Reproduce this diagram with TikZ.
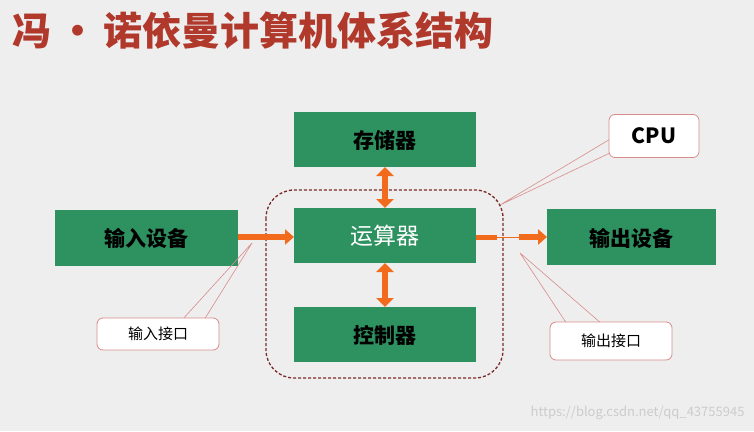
\documentclass[tikz,border=0pt]{standalone}
\usepackage{fontspec}
\setmainfont{Noto Sans CJK SC}
\usetikzlibrary{arrows.meta}
\definecolor{bg}{HTML}{EEEEEE}
\definecolor{gbox}{HTML}{2E9160}
\definecolor{ttl}{HTML}{B0392C}
\definecolor{org}{HTML}{F26B1D}
\definecolor{cpink}{HTML}{D98C8C}
\definecolor{dred}{HTML}{7A2A2A}
\begin{document}
\begin{tikzpicture}[x=1pt,y=-1pt,
  gb/.style={fill=gbox,draw=none},
  bt/.style={font=\bfseries\fontsize{21}{21}\selectfont},
  call/.style={draw=cpink,fill=white,rounded corners=6pt,line width=0.8pt},
  ptr/.style={draw=cpink,line width=0.6pt},
  oarrow/.style={draw=org,line width=6pt,-{Triangle[length=9pt,width=15pt]}},
  darrow/.style={draw=org,line width=6pt,{Triangle[length=9pt,width=17pt]}-{Triangle[length=9pt,width=17pt]}}]
\useasboundingbox (0,0) rectangle (754,431);
\fill[bg] (0,0) rectangle (754,431);
\node[anchor=west,text=ttl,font=\bfseries\fontsize{39}{39}\selectfont] (title) at (9,31) {冯\,·\,诺依曼计算机体系结构};
% boxes
\path[gb] (294,112) rectangle (476,167);
\node[bt] (mem) at (385,140) {存储器};
\path[gb] (294,208) rectangle (476,263);
\node[text=white,font=\fontsize{23}{23}\selectfont] (alu) at (385,236) {运算器};
\path[gb] (294,307) rectangle (476,362);
\node[bt] (ctl) at (385,335) {控制器};
\path[gb] (55,210) rectangle (238,266);
\node[bt] (in) at (146,238) {输入设备};
\path[gb] (547,209) rectangle (716,265);
\node[bt] (out) at (631,238) {输出设备};
% dashed CPU boundary
\draw[dred,line width=1.3pt,dash pattern=on 3pt off 2pt,rounded corners=28pt] (266,190) rectangle (503,378);
% arrows
\coordinate (a1) at (238,237);\coordinate (a2) at (294,237);
\draw[oarrow] (a1) -- (a2);
\coordinate (b1) at (476,237);\coordinate (b2) at (497,237);
\coordinate (b3) at (519,237);\coordinate (b4) at (547,237);
\draw[org,line width=5pt] (b1) -- (b2);
\draw[org,line width=1pt] (b2) -- (b3);
\draw[oarrow] (b3) -- (b4);
\coordinate (m1) at (385,167);\coordinate (m2) at (385,208);
\draw[darrow] (m1) -- (m2);
\coordinate (c1) at (385,263);\coordinate (c2) at (385,307);
\draw[darrow] (c1) -- (c2);
% callouts
\coordinate (cpt) at (500,205);
\draw[ptr] (cpt) -- (612,138) (cpt) -- (612,152);
\node[call,minimum width=90pt,minimum height=43pt,font=\bfseries\fontsize{21}{21}\selectfont] (cpu) at (654,136) {CPU};
\coordinate (ipt) at (252,243);
\draw[ptr] (ipt) -- (182,320) (ipt) -- (204,320);
\node[call,minimum width=122pt,minimum height=32pt,font=\fontsize{15}{15}\selectfont] (ifc) at (158,334) {输入接口};
\coordinate (opt) at (520,253);
\draw[ptr] (opt) -- (567,324) (opt) -- (602,324);
\node[call,minimum width=122pt,minimum height=38pt,font=\fontsize{15}{15}\selectfont] (ofc) at (611,341) {输出接口};
\node[text=white!60!gray,font=\fontsize{13}{13}\selectfont,anchor=east] (wm) at (748,413) {https://blog.csdn.net/qq\_43755945};
\end{tikzpicture}
\end{document}
